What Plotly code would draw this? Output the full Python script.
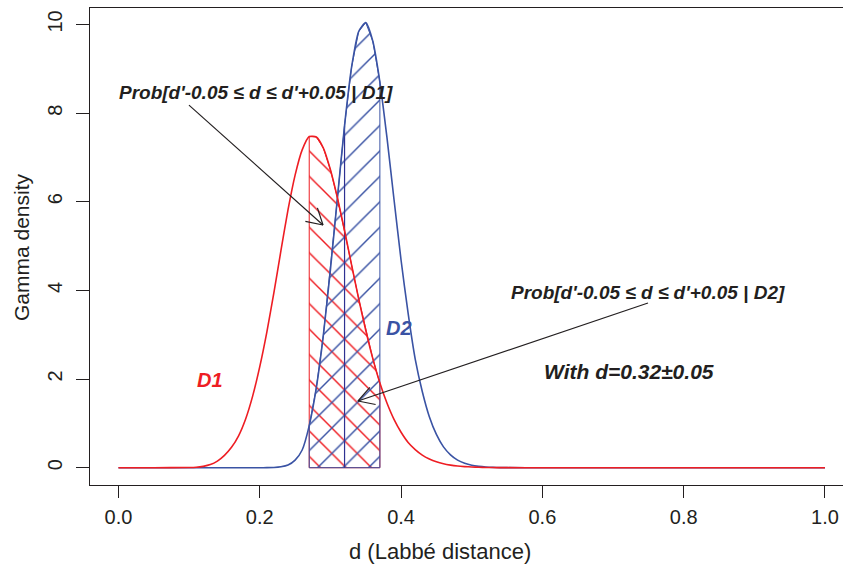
import math
import plotly.graph_objects as go

# ---------------- data ----------------
d_values = [0.00, 0.05,
            0.10, 0.11, 0.12, 0.13, 0.14, 0.15, 0.16, 0.17, 0.18, 0.19,
            0.20, 0.21, 0.22, 0.23, 0.24, 0.25, 0.26, 0.27, 0.28, 0.29,
            0.30, 0.31, 0.32, 0.33, 0.34, 0.35, 0.36, 0.37, 0.38, 0.39,
            0.40, 0.41, 0.42, 0.43, 0.44, 0.45, 0.46, 0.47, 0.48, 0.49,
            0.50, 0.51, 0.52, 0.53, 0.54, 0.55,
            0.60, 0.70, 0.80, 0.90, 1.00]

density_D1 = [0.0, 0.0,
              0.004, 0.01, 0.03, 0.07, 0.15, 0.28, 0.46, 0.72, 1.10, 1.62,
              2.28, 3.06, 3.95, 4.90, 5.82, 6.60, 7.17, 7.47, 7.46, 7.21,
              6.72, 6.08, 5.35, 4.57, 3.81, 3.10, 2.46, 1.91, 1.46, 1.09,
              0.80, 0.57, 0.41, 0.285, 0.197, 0.133, 0.089, 0.059, 0.038, 0.025,
              0.016, 0.010, 0.006, 0.004, 0.002, 0.001,
              0.0, 0.0, 0.0, 0.0, 0.0]

density_D2 = [0.0, 0.0,
              0.0, 0.0, 0.0, 0.0, 0.0, 0.0, 0.0, 0.0, 0.0, 0.0,
              0.0, 0.001, 0.005, 0.02, 0.06, 0.17, 0.40, 0.95, 1.80, 2.99,
              4.47, 6.10, 7.72, 9.04, 9.84, 10.04, 9.62, 8.70, 7.45, 6.05,
              4.68, 3.48, 2.45, 1.72, 1.15, 0.75, 0.47, 0.29, 0.17, 0.10,
              0.055, 0.03, 0.015, 0.007, 0.003, 0.001,
              0.0, 0.0, 0.0, 0.0, 0.0]

d_prime = 0.32
half_width = 0.05

x_ticks = [0.0, 0.2, 0.4, 0.6, 0.8, 1.0]
x_tick_labels = ["0.0", "0.2", "0.4", "0.6", "0.8", "1.0"]
y_ticks = [0, 2, 4, 6, 8, 10]
y_tick_labels = ["0", "2", "4", "6", "8", "10"]

# ---------------- styles ----------------
RED = "#ee1d23"
BLUE = "#3a53a4"
NAVY = "#2e3192"
INK = "#231f20"
FONT = "Liberation Sans, Arial, sans-serif"
FS = 20

W, H = 843, 570
ML, MR, MT, MB = 90, 0, 8, 85
XR = [-0.0403, 1.0255]
YR = [-0.39, 10.37]
PW, PH = W - ML - MR, H - MT - MB
px_per_x = PW / (XR[1] - XR[0])
px_per_y = PH / (YR[1] - YR[0])

lo, hi = d_prime - half_width, d_prime + half_width
idx = [i for i, v in enumerate(d_values) if lo - 1e-9 <= v <= hi + 1e-9]
band_x = [d_values[i] for i in idx]
band_D1 = [density_D1[i] for i in idx]
band_D2 = [density_D2[i] for i in idx]

fig = go.Figure()

# hatched regions
fig.add_trace(go.Scatter(
    x=band_x + [band_x[-1], band_x[0], band_x[0]],
    y=band_D1 + [0, 0, band_D1[0]],
    mode="lines", fill="toself", line=dict(color=RED, width=1),
    fillcolor="rgba(0,0,0,0)",
    fillpattern=dict(shape="\\", fgcolor=RED, bgcolor="rgba(0,0,0,0)",
                     size=18, solidity=0.08, fgopacity=1),
    hoverinfo="skip", showlegend=False))
fig.add_trace(go.Scatter(
    x=band_x + [band_x[-1], band_x[0], band_x[0]],
    y=band_D2 + [0, 0, band_D2[0]],
    mode="lines", fill="toself", line=dict(color=BLUE, width=1),
    fillcolor="rgba(0,0,0,0)",
    fillpattern=dict(shape="/", fgcolor=BLUE, bgcolor="rgba(0,0,0,0)",
                     size=18, solidity=0.08, fgopacity=1),
    hoverinfo="skip", showlegend=False))

# vertical line at d'
d2_at_dprime = density_D2[d_values.index(d_prime)]
fig.add_trace(go.Scatter(x=[d_prime, d_prime], y=[0, d2_at_dprime], mode="lines",
                         line=dict(color=NAVY, width=1.2), hoverinfo="skip",
                         showlegend=False))

# curves
fig.add_trace(go.Scatter(x=d_values, y=density_D2, mode="lines",
                         line=dict(color=BLUE, width=1.6, shape="spline", smoothing=0.6),
                         name="D2", showlegend=False))
fig.add_trace(go.Scatter(x=d_values, y=density_D1, mode="lines",
                         line=dict(color=RED, width=1.6, shape="spline", smoothing=0.6),
                         name="D1", showlegend=False))

# arrows (tail -> tip, data coordinates)
arrows = [((0.0998, 8.18), (0.2895, 5.475)),
          ((0.7495, 3.715), (0.3390, 1.505))]
shapes = []
for (tx, ty), (hx, hy) in arrows:
    shapes.append(dict(type="line", xref="x", yref="y", x0=tx, y0=ty, x1=hx, y1=hy,
                       line=dict(color=INK, width=1.2)))
    dx = (hx - tx) * px_per_x
    dy = (hy - ty) * px_per_y
    L = math.hypot(dx, dy)
    ux, uy = -dx / L, -dy / L
    for ang in (math.radians(30), math.radians(-30)):
        rx = ux * math.cos(ang) - uy * math.sin(ang)
        ry = ux * math.sin(ang) + uy * math.cos(ang)
        shapes.append(dict(type="line", xref="x", yref="y",
                           xsizemode="pixel", ysizemode="pixel",
                           xanchor=hx, yanchor=hy,
                           x0=0, y0=0, x1=rx * 18, y1=ry * 18,
                           line=dict(color=INK, width=1.2)))

annotations = [
    dict(x=0.195, y=8.47, text="<b><i>Prob[d'-0.05 ≤ d ≤ d'+0.05 | D1]</i></b>",
         showarrow=False, font=dict(family=FONT, size=19, color=INK)),
    dict(x=0.7495, y=3.96, text="<b><i>Prob[d'-0.05 ≤ d ≤ d'+0.05 | D2]</i></b>",
         showarrow=False, font=dict(family=FONT, size=19, color=INK)),
    dict(x=0.722, y=2.16, text="<b><i>With d=0.32±0.05</i></b>",
         showarrow=False, font=dict(family=FONT, size=21, color=INK)),
    dict(x=0.1295, y=1.98, text="<b><i>D1</i></b>",
         showarrow=False, font=dict(family=FONT, size=FS, color=RED)),
    dict(x=0.397, y=3.15, text="<b><i>D2</i></b>",
         showarrow=False, font=dict(family=FONT, size=FS, color=BLUE)),
    dict(xref="paper", yref="paper", x=(440 - ML) / PW, y=(H - MB - 551) / PH,
         xanchor="center", yanchor="middle",
         text="d (Labbé distance)", showarrow=False,
         font=dict(family=FONT, size=22, color=INK)),
    dict(xref="paper", yref="paper", x=(22 - ML) / PW, y=(H - MB - 247) / PH,
         xanchor="center", yanchor="middle",
         text="Gamma density", textangle=-90, showarrow=False,
         font=dict(family=FONT, size=21, color=INK)),
]

fig.update_layout(
    width=W, height=H,
    margin=dict(l=ML, r=MR, t=MT, b=MB, pad=0, autoexpand=False),
    paper_bgcolor="white", plot_bgcolor="white",
    showlegend=False,
    shapes=shapes,
    annotations=annotations,
    font=dict(family=FONT, size=FS, color=INK),
    xaxis=dict(range=XR, showgrid=False, zeroline=False, showline=True,
               linecolor=INK, linewidth=1.2, mirror=True, automargin=False,
               ticks="outside", ticklen=12, tickwidth=1.2, tickcolor=INK,
               ticklabelstandoff=2,
               tickvals=x_ticks, ticktext=x_tick_labels,
               tickfont=dict(family=FONT, size=FS, color=INK)),
    yaxis=dict(range=YR, showgrid=False, zeroline=False, showline=True,
               linecolor=INK, linewidth=1.2, automargin=False,
               ticks="outside", ticklen=13, tickwidth=1.2, tickcolor=INK,
               ticklabelstandoff=6,
               tickvals=y_ticks, ticktext=y_tick_labels, tickangle=-90,
               tickfont=dict(family=FONT, size=FS, color=INK)),
)

fig.write_html("out.html",
               config={"displayModeBar": False},
               post_script="document.body.style.margin='0';"
                           "document.body.style.overflow='hidden';")
